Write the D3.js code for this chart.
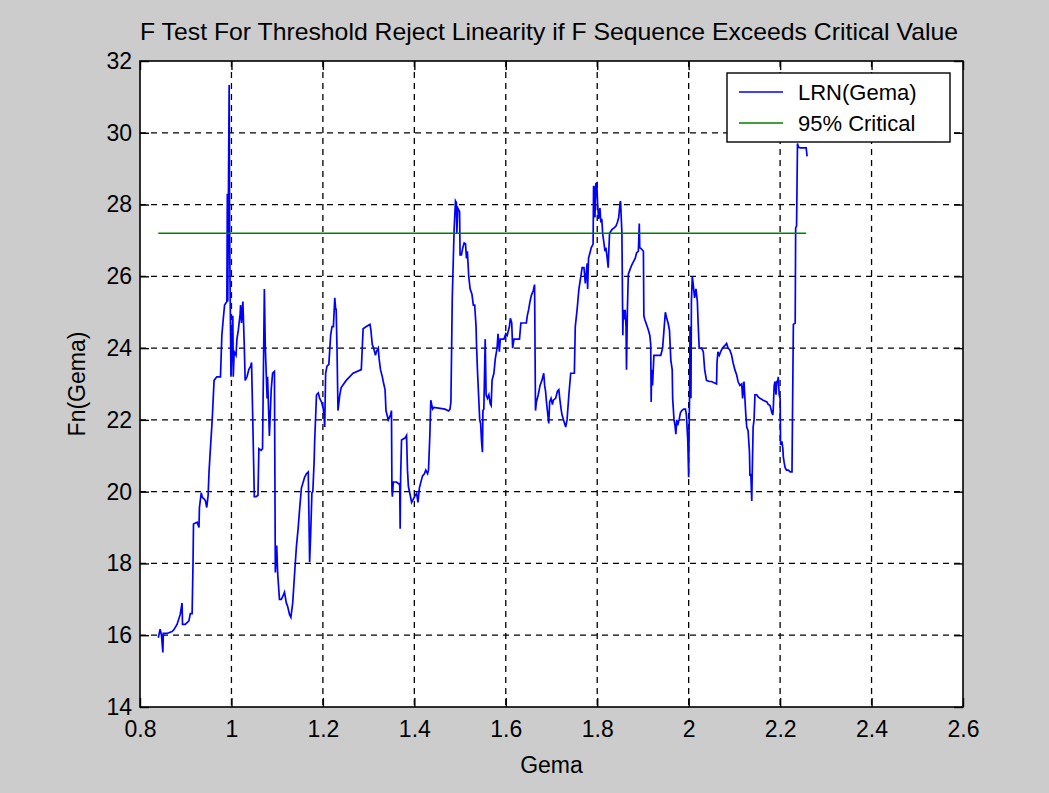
<!DOCTYPE html>
<html>
<head>
<meta charset="utf-8">
<script src="https://cdn.jsdelivr.net/npm/d3@7/dist/d3.min.js"></script>
<style>
  body {
    margin: 0;
    background: #cccccc;
  }
  svg text {
    font-family: "Liberation Sans", Arial, Helvetica, sans-serif;
    fill: #000;
  }
</style>
</head>
<body>
<div id="svg-container"></div>
<script>
/// DATA

const gema = [
  0.84, 0.844, 0.847, 0.85, 0.851, 0.859, 0.87, 0.874, 0.881, 0.888, 0.892, 0.893, 0.899, 0.907, 0.91, 0.914,
  0.916, 0.917, 0.925, 0.929, 0.93, 0.934, 0.936, 0.94, 0.943, 0.946, 0.949, 0.951, 0.954, 0.958, 0.962, 0.968,
  0.976, 0.979, 0.982, 0.985, 0.99, 0.991, 0.992, 0.993, 0.995, 0.996, 0.997, 0.999, 1.001, 1.003, 1.004, 1.006,
  1.01, 1.012, 1.015, 1.019, 1.02, 1.022, 1.025, 1.028, 1.03, 1.034, 1.038, 1.042, 1.044, 1.046, 1.05, 1.054,
  1.058, 1.06, 1.065, 1.068, 1.072, 1.074, 1.078, 1.079, 1.083, 1.087, 1.09, 1.094, 1.096, 1.099, 1.101, 1.105,
  1.109, 1.113, 1.116, 1.12, 1.123, 1.127, 1.13, 1.134, 1.138, 1.142, 1.146, 1.149, 1.153, 1.157, 1.16, 1.164,
  1.168, 1.169, 1.171, 1.173, 1.176, 1.178, 1.181, 1.182, 1.186, 1.19, 1.193, 1.197, 1.201, 1.203, 1.204, 1.206,
  1.209, 1.213, 1.217, 1.22, 1.223, 1.226, 1.228, 1.229, 1.231, 1.233, 1.237, 1.24, 1.251, 1.266, 1.284, 1.288,
  1.295, 1.303, 1.305, 1.308, 1.311, 1.315, 1.317, 1.321, 1.323, 1.326, 1.33, 1.332, 1.336, 1.338, 1.343, 1.348,
  1.35, 1.351, 1.352, 1.354, 1.361, 1.368, 1.369, 1.37, 1.372, 1.38, 1.383, 1.385, 1.387, 1.391, 1.394, 1.398,
  1.402, 1.405, 1.408, 1.411, 1.415, 1.418, 1.422, 1.425, 1.429, 1.431, 1.434, 1.436, 1.44, 1.443, 1.467, 1.475,
  1.478, 1.48, 1.483, 1.487, 1.49, 1.492, 1.493, 1.495, 1.499, 1.5, 1.503, 1.506, 1.509, 1.512, 1.514, 1.516,
  1.519, 1.522, 1.526, 1.529, 1.532, 1.535, 1.536, 1.538, 1.543, 1.545, 1.547, 1.549, 1.55, 1.552, 1.555, 1.557,
  1.56, 1.563, 1.566, 1.568, 1.57, 1.574, 1.577, 1.581, 1.583, 1.586, 1.588, 1.592, 1.596, 1.6, 1.603, 1.608,
  1.61, 1.613, 1.615, 1.618, 1.625, 1.63, 1.633, 1.639, 1.645, 1.647, 1.65, 1.653, 1.656, 1.66, 1.663, 1.665,
  1.667, 1.671, 1.675, 1.679, 1.683, 1.685, 1.687, 1.689, 1.692, 1.694, 1.696, 1.699, 1.702, 1.704, 1.709, 1.713,
  1.716, 1.718, 1.721, 1.723, 1.727, 1.731, 1.734, 1.738, 1.742, 1.748, 1.75, 1.752, 1.756, 1.76, 1.763, 1.767,
  1.771, 1.774, 1.778, 1.779, 1.781, 1.785, 1.787, 1.791, 1.792, 1.794, 1.795, 1.797, 1.799, 1.801, 1.803, 1.806,
  1.808, 1.81, 1.812, 1.815, 1.817, 1.819, 1.821, 1.824, 1.825, 1.827, 1.832, 1.837, 1.841, 1.844, 1.847, 1.85,
  1.851, 1.854, 1.856, 1.857, 1.859, 1.861, 1.863, 1.864, 1.866, 1.868, 1.872, 1.875, 1.879, 1.883, 1.886, 1.89,
  1.892, 1.893, 1.897, 1.901, 1.902, 1.904, 1.908, 1.912, 1.915, 1.917, 1.918, 1.919, 1.921, 1.924, 1.928, 1.934,
  1.939, 1.941, 1.943, 1.946, 1.949, 1.952, 1.955, 1.958, 1.961, 1.964, 1.965, 1.968, 1.97, 1.972, 1.974, 1.976,
  1.979, 1.982, 1.985, 1.989, 1.993, 1.995, 1.998, 2.0, 2.001, 2.002, 2.003, 2.005, 2.006, 2.008, 2.01, 2.013,
  2.016, 2.019, 2.021, 2.023, 2.028, 2.032, 2.035, 2.039, 2.045, 2.05, 2.061, 2.062, 2.064, 2.067, 2.07, 2.074,
  2.079, 2.083, 2.086, 2.09, 2.094, 2.097, 2.101, 2.105, 2.108, 2.112, 2.116, 2.118, 2.121, 2.123, 2.125, 2.127,
  2.13, 2.133, 2.134, 2.136, 2.138, 2.139, 2.141, 2.143, 2.145, 2.149, 2.152, 2.156, 2.163, 2.171, 2.174, 2.178,
  2.182, 2.184, 2.185, 2.187, 2.189, 2.191, 2.193, 2.195, 2.196, 2.198, 2.2, 2.201, 2.204, 2.206, 2.207, 2.209,
  2.211, 2.214, 2.218, 2.222, 2.226, 2.227, 2.229, 2.233, 2.234, 2.236, 2.238, 2.24, 2.244, 2.248, 2.251, 2.257,
  2.259,
]

const fn = [
  15.93, 16.17, 16.0, 15.52, 16.05, 16.05, 16.1, 16.15, 16.3, 16.58, 16.9, 16.3, 16.3, 16.4, 16.6, 16.6,
  18.04, 19.1, 19.15, 19.0, 19.56, 19.97, 19.85, 19.8, 19.75, 19.56, 19.9, 20.56, 21.2, 22.02, 23.1, 23.2,
  23.2, 24.36, 24.8, 25.2, 25.3, 28.3, 25.3, 27.4, 31.33, 27.3, 25.77, 23.2, 24.1, 24.9, 23.2, 23.9,
  23.8, 24.25, 24.5, 24.95, 25.2, 24.7, 25.3, 24.1, 23.1, 23.2, 23.4, 23.5, 23.6, 22.4, 19.86, 19.86,
  19.9, 21.2, 21.15, 21.2, 25.65, 24.05, 22.6, 23.2, 21.55, 22.85, 23.3, 23.35, 17.75, 18.5, 17.75, 17.0,
  17.0, 17.1, 17.2, 16.9, 16.8, 16.58, 16.5, 16.9, 17.7, 18.45, 19.0, 19.5, 20.1, 20.27, 20.4, 20.5,
  20.55, 19.7, 18.04, 18.7, 19.97, 20.0, 20.9, 21.4, 22.7, 22.75, 22.6, 22.5, 22.3, 22.0, 21.8, 23.3,
  23.5, 23.55, 24.36, 24.6, 24.6, 25.4, 25.07, 25.1, 23.9, 22.26, 22.7, 22.9, 23.1, 23.3, 23.4, 24.54,
  24.6, 24.66, 24.5, 24.1, 24.0, 23.8, 23.9, 24.0, 23.7, 23.4, 23.2, 23.07, 22.84, 22.26, 22.0, 22.14,
  22.26, 20.03, 19.86, 20.27, 20.27, 20.2, 18.97, 20.38, 21.44, 21.5, 21.57, 20.6, 20.15, 19.9, 19.7, 19.8,
  19.9, 19.95, 19.7, 20.1, 20.3, 20.44, 20.5, 20.6, 20.5, 20.6, 21.6, 22.55, 22.3, 22.35, 22.3, 22.25,
  22.3, 22.5, 25.42, 27.3, 28.1, 28.05, 27.2, 27.9, 27.8, 26.6, 26.6, 26.8, 26.93, 26.9, 26.5, 26.7,
  26.0, 25.65, 25.5, 25.2, 25.2, 24.6, 24.1, 23.4, 22.0, 21.9, 21.4, 21.1, 22.26, 22.3, 24.25, 22.7,
  22.6, 22.7, 22.45, 22.4, 23.1, 23.3, 23.7, 24.0, 24.4, 23.9, 24.25, 24.25, 24.25, 24.4, 24.35, 24.6,
  24.83, 24.7, 24.0, 24.25, 24.25, 24.25, 24.7, 24.7, 24.7, 24.9, 25.07, 25.3, 25.47, 25.6, 25.77, 22.26,
  22.5, 22.7, 22.96, 23.1, 23.3, 22.96, 22.8, 22.5, 22.14, 21.9, 22.5, 22.6, 22.43, 22.55, 22.6, 22.8,
  22.84, 22.6, 22.3, 22.14, 21.97, 21.8, 22.0, 22.7, 23.3, 23.3, 23.3, 24.6, 25.07, 25.65, 25.9, 26.24,
  26.24, 25.8, 26.36, 25.65, 26.5, 26.7, 26.8, 26.9, 28.52, 28.46, 27.64, 28.58, 28.6, 28.0, 27.6, 27.9,
  27.5, 27.6, 27.18, 26.9, 26.7, 26.8, 26.6, 26.24, 26.6, 27.2, 27.3, 27.35, 27.4, 27.5, 27.64, 28.05,
  28.1, 27.2, 24.36, 25.07, 24.8, 25.07, 24.6, 23.4, 25.07, 26.06, 26.2, 26.3, 26.4, 26.5, 26.65, 26.7,
  27.47, 26.8, 26.76, 26.7, 24.9, 24.8, 24.65, 24.5, 24.36, 24.1, 22.5, 23.4, 22.96, 23.8, 23.8, 23.8,
  23.8, 23.9, 24.0, 24.5, 25.0, 24.83, 24.7, 24.5, 23.66, 23.4, 22.6, 22.0, 21.85, 21.6, 22.0, 21.85,
  22.0, 22.2, 22.26, 22.3, 22.3, 22.14, 21.45, 20.4, 21.8, 22.7, 24.6, 22.6, 25.3, 26.0, 25.77, 25.4,
  25.65, 25.3, 24.6, 24.0, 24.0, 23.9, 23.4, 23.1, 23.07, 23.07, 23.0, 23.6, 23.9, 23.8, 23.9, 24.0,
  24.07, 24.13, 24.0, 23.95, 23.8, 23.6, 23.4, 23.25, 23.07, 22.96, 23.0, 22.6, 23.07, 22.6, 22.14, 21.8,
  21.7, 21.1, 20.44, 20.5, 19.74, 20.5, 21.8, 22.0, 22.7, 22.7, 22.64, 22.6, 22.55, 22.5, 22.43, 22.4,
  22.2, 22.14, 22.3, 22.96, 23.07, 22.7, 23.07, 23.1, 23.2, 22.7, 22.6, 21.3, 21.4, 21.2, 20.97, 20.8,
  20.67, 20.6, 20.6, 20.55, 20.55, 22.0, 24.66, 24.7, 27.35, 27.4, 29.7, 29.6, 29.58, 29.58, 29.58, 29.58,
  29.34,
]

const critGema = [0.84, 2.257]
const critValue = [27.2, 27.2]

const xTicks = [0.8, 1, 1.2, 1.4, 1.6, 1.8, 2, 2.2, 2.4, 2.6]
const yTicks = [14, 16, 18, 20, 22, 24, 26, 28, 30, 32]

const seriesNames = ["LRN(Gema)", "95% Critical"]
const seriesColors = ["#0000ff", "#008000"]

const lrnData = gema.map((g, i) => ({ x: g, y: fn[i] }))
const critData = critGema.map((g, i) => ({ x: g, y: critValue[i] }))

/// LAYOUT

const width = 1049
const height = 793
const margins = { top: 61, right: 86, bottom: 86, left: 140 }
const fontSize = 23
const tickLen = 9

const xScale = d3
  .scaleLinear()
  .domain([0.8, 2.6])
  .range([margins.left, width - margins.right])

const yScale = d3
  .scaleLinear()
  .domain([14, 32])
  .range([height - margins.bottom, margins.top])

const svg = d3
  .select("#svg-container")
  .append("svg")
  .attr("width", width)
  .attr("height", height)
  .attr("viewBox", [0, 0, width, height])
  .style("display", "block")

svg
  .append("rect")
  .attr("width", width)
  .attr("height", height)
  .attr("fill", "#cccccc")

svg
  .append("rect")
  .attr("x", margins.left)
  .attr("y", margins.top)
  .attr("width", width - margins.left - margins.right)
  .attr("height", height - margins.top - margins.bottom)
  .attr("fill", "#ffffff")

/// GRID

const grid = svg.append("g").attr("class", "grid")

grid
  .selectAll(".vgrid")
  .data(xTicks.slice(1, -1))
  .join("line")
  .attr("x1", (d) => xScale(d))
  .attr("x2", (d) => xScale(d))
  .attr("y1", margins.top)
  .attr("y2", height - margins.bottom)

grid
  .selectAll(".hgrid")
  .data(yTicks.slice(1, -1))
  .join("line")
  .attr("x1", margins.left)
  .attr("x2", width - margins.right)
  .attr("y1", (d) => yScale(d))
  .attr("y2", (d) => yScale(d))

grid
  .selectAll("line")
  .attr("stroke", "#000")
  .attr("stroke-width", 1.3)
  .attr("stroke-dasharray", "6,5")

/// LINES

const lineGenerator = d3
  .line()
  .x((d) => xScale(d.x))
  .y((d) => yScale(d.y))

svg
  .append("path")
  .datum(lrnData)
  .attr("d", lineGenerator)
  .attr("fill", "none")
  .attr("stroke", seriesColors[0])
  .attr("stroke-width", 1.7)
  .attr("stroke-linejoin", "miter")

svg
  .append("path")
  .datum(critData)
  .attr("d", lineGenerator)
  .attr("fill", "none")
  .attr("stroke", seriesColors[1])
  .attr("stroke-width", 1.7)

/// AXES

const xAxisBottom = d3
  .axisBottom(xScale)
  .tickValues(xTicks)
  .tickFormat(d3.format("~g"))
  .tickSizeInner(-tickLen)
  .tickSizeOuter(0)
  .tickPadding(14)

const xAxisTop = d3
  .axisTop(xScale)
  .tickValues(xTicks)
  .tickFormat("")
  .tickSizeInner(-tickLen)
  .tickSizeOuter(0)

const yAxisLeft = d3
  .axisLeft(yScale)
  .tickValues(yTicks)
  .tickFormat(d3.format("~g"))
  .tickSizeInner(-tickLen)
  .tickSizeOuter(0)
  .tickPadding(8)

const yAxisRight = d3
  .axisRight(yScale)
  .tickValues(yTicks)
  .tickFormat("")
  .tickSizeInner(-tickLen)
  .tickSizeOuter(0)

const axes = [
  [xAxisBottom, `translate(0,${height - margins.bottom})`],
  [xAxisTop, `translate(0,${margins.top})`],
  [yAxisLeft, `translate(${margins.left},0)`],
  [yAxisRight, `translate(${width - margins.right},0)`],
]

axes.forEach(([gen, tr]) => {
  const g = svg.append("g").attr("transform", tr).call(gen)
  g.select(".domain").remove()
  g.selectAll(".tick line").attr("stroke", "#000").attr("stroke-width", 1.4)
  g.selectAll(".tick text")
    .style("font-size", fontSize + "px")
    .style("font-family", '"Liberation Sans", Arial, sans-serif')
    .attr("fill", "#000")
})

// frame
svg
  .append("rect")
  .attr("x", margins.left)
  .attr("y", margins.top)
  .attr("width", width - margins.left - margins.right)
  .attr("height", height - margins.top - margins.bottom)
  .attr("fill", "none")
  .attr("stroke", "#000")
  .attr("stroke-width", 1.6)

/// LABELS

svg
  .append("text")
  .attr("x", margins.left)
  .attr("y", 40)
  .attr("textLength", 818)
  .attr("lengthAdjust", "spacingAndGlyphs")
  .style("font-size", "24px")
  .text("F Test For Threshold Reject Linearity if F Sequence Exceeds Critical Value")

svg
  .append("text")
  .attr("x", (margins.left + width - margins.right) / 2)
  .attr("y", 773)
  .attr("text-anchor", "middle")
  .style("font-size", fontSize + "px")
  .text("Gema")

svg
  .append("text")
  .attr("transform", `translate(85,${(margins.top + height - margins.bottom) / 2}) rotate(-90)`)
  .attr("text-anchor", "middle")
  .style("font-size", fontSize + "px")
  .text("Fn(Gema)")

/// LEGEND

const legend = svg.append("g").attr("transform", "translate(727,73)")

legend
  .append("rect")
  .attr("width", 223)
  .attr("height", 69)
  .attr("fill", "#ffffff")
  .attr("stroke", "#000")
  .attr("stroke-width", 1.4)

const legendItems = legend
  .selectAll(".item")
  .data(seriesNames)
  .join("g")
  .attr("transform", (d, i) => `translate(0,${19 + i * 31})`)

legendItems
  .append("line")
  .attr("x1", 12)
  .attr("x2", 56)
  .attr("stroke", (d, i) => seriesColors[i])
  .attr("stroke-width", 1.7)

legendItems
  .append("text")
  .attr("x", 71)
  .attr("y", 8)
  .style("font-size", "22px")
  .text((d) => d)
</script>
</body>
</html>
